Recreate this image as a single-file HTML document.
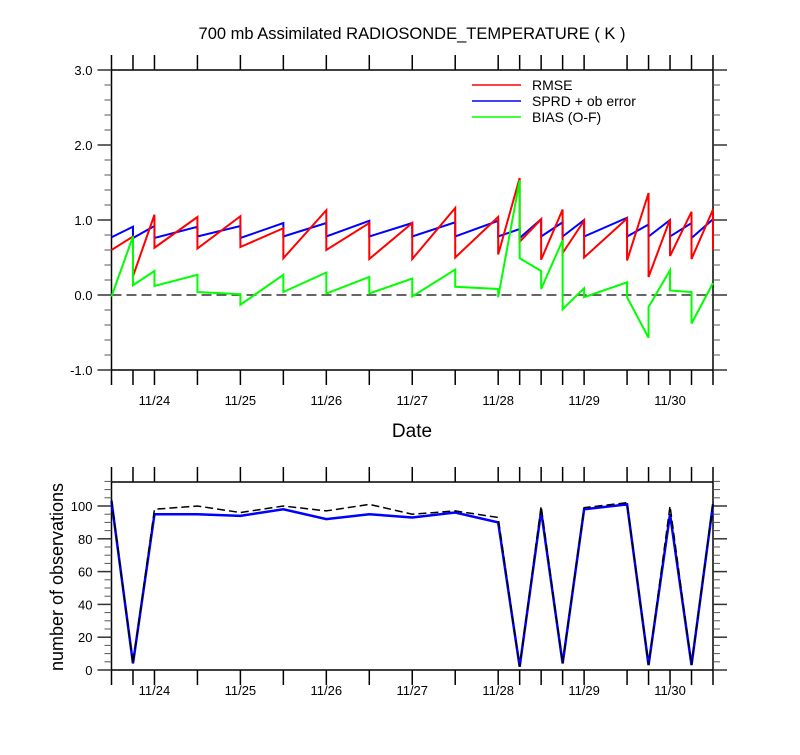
<!DOCTYPE html>
<html><head><meta charset="utf-8"><style>
html,body{margin:0;padding:0;background:#fff;}
svg text{font-family:"Liberation Sans",sans-serif;fill:#000;}
</style></head><body>
<svg id="chart" width="800" height="750" viewBox="0 0 800 750" xmlns="http://www.w3.org/2000/svg">
<text x="412" y="39" font-size="16.5" text-anchor="middle">700 mb Assimilated RADIOSONDE_TEMPERATURE ( K )</text>
<g id="topg"></g>
<g id="botg"></g>
<text x="412" y="437" font-size="19" text-anchor="middle">Date</text>
<text transform="translate(63,577) rotate(-90)" font-size="18" text-anchor="middle">number of observations</text>
<g>
<line x1="472" y1="85" x2="521" y2="85" stroke="#f00" stroke-width="1.5"/>
<text x="532" y="90" font-size="14">RMSE</text>
<line x1="472" y1="101" x2="521" y2="101" stroke="#00f" stroke-width="1.5"/>
<text x="532" y="106" font-size="14">SPRD + ob error</text>
<line x1="472" y1="117" x2="521" y2="117" stroke="#0f0" stroke-width="1.5"/>
<text x="532" y="122" font-size="14">BIAS (O-F)</text>
</g>
</svg>
<script>
// hours since 11/23 12Z
const times = [0,6,12,24,36,48,60,72,84,96,108,114,120,126,132,144,150,156,162,168];
const dayLabels = ["11/24","11/25","11/26","11/27","11/28","11/29","11/30"];
const dayHours = [12,36,60,84,108,132,156];
const rmseArrive = [0.60,0.78,1.07,1.04,1.05,0.89,1.13,0.96,0.96,1.16,1.04,1.56,1.01,1.14,0.99,1.02,1.36,1.01,1.11,1.14];
const rmseDepart = [0.60,0.25,0.63,0.62,0.64,0.49,0.60,0.48,0.48,0.50,0.54,0.71,0.47,0.56,0.50,0.46,0.24,0.52,0.48,0.60];
const sprdArrive = [0.77,0.91,0.92,0.91,0.92,0.96,0.96,0.99,0.96,0.97,0.99,0.88,1.01,0.97,1.00,1.03,0.94,1.00,0.96,1.01];
const sprdDepart = [0.77,0.76,0.76,0.78,0.76,0.78,0.78,0.78,0.78,0.78,0.78,0.76,0.78,0.78,0.78,0.78,0.78,0.78,0.76,0.78];
const biasArrive = [-0.02,0.78,0.32,0.27,0.01,0.27,0.30,0.24,0.22,0.34,0.08,1.53,0.32,0.73,0.09,0.17,-0.57,0.33,0.04,0.16];
const biasDepart = [-0.02,0.13,0.12,0.04,-0.13,0.04,0.02,0.02,-0.02,0.11,-0.03,0.49,0.08,-0.19,-0.03,-0.03,-0.16,0.06,-0.38,0.16];
const topTicks = [-1.0,0.0,1.0,2.0,3.0];
const obsTotal = [104,4,98,100,96,100,97,101,95,97,93,2,100,4,99,102,3,100,3,102];
const obsUsed  = [103,4,95,95,94,98,92,95,93,96,90,2,97,4,98,101,3,95,3,101];
const botTicks = [0,20,40,60,80,100];

const NS="http://www.w3.org/2000/svg";
const X0=111.5,X1=713,H0=0,H1=168;
const xs=h=>X0+(h-H0)/(H1-H0)*(X1-X0);
const yTop=v=>295-75*v;
const yBot=v=>670-1.64*v;
function mk(parent,tag,attrs){const e=document.createElementNS(NS,tag);for(const k in attrs)e.setAttribute(k,attrs[k]);parent.appendChild(e);return e;}
const gTop=document.getElementById('topg'), gBot=document.getElementById('botg');

function frame(g,yt,yb,ymin,ymax,yf,major,minorStep,fmt,labelY){
  const r=mk(g,'rect',{x:X0,y:yt,width:X1-X0,height:yb-yt,fill:'none',stroke:'#000','stroke-width':1.5});
  
  
  times.forEach(t=>{
    const x=xs(t);
    mk(g,'line',{x1:x,y1:yt,x2:x,y2:yt-15,stroke:'#000','stroke-width':1.5});
    mk(g,'line',{x1:x,y1:yb,x2:x,y2:yb+15,stroke:'#000','stroke-width':1.5});
  });
  dayHours.forEach((h,i)=>{
    const t=mk(g,'text',{x:xs(h),y:labelY,'font-size':13,'text-anchor':'middle'});
    t.textContent=dayLabels[i];
    
    
  });
  for(let v=ymin;v<=ymax+1e-9;v+=minorStep){
    const y=yf(v);
    mk(g,'line',{x1:X0,y1:y,x2:X0-7,y2:y,stroke:'#555','stroke-width':1});
    mk(g,'line',{x1:X1,y1:y,x2:X1+7,y2:y,stroke:'#555','stroke-width':1});
  }
  major.forEach(v=>{
    const y=yf(v);
    mk(g,'line',{x1:X0,y1:y,x2:X0-14,y2:y,stroke:'#333','stroke-width':1.5});
    mk(g,'line',{x1:X1,y1:y,x2:X1+14,y2:y,stroke:'#333','stroke-width':1.5});
    const t=mk(g,'text',{x:X0-19,y:y+5,'font-size':13,'text-anchor':'end'});
    t.textContent=fmt(v);
    
    
  });
}
frame(gTop,70,370,-1,3,yTop,topTicks,0.2,v=>v.toFixed(1),405);
frame(gBot,482,670,0,115,yBot,botTicks,5,v=>String(v),695);

const z=mk(gTop,'line',{x1:X0,y1:yTop(0),x2:X1,y2:yTop(0),stroke:'#333','stroke-width':1.5,'stroke-dasharray':'10,5'});



function saw(a,d){const p=[];times.forEach((t,i)=>{p.push(xs(t)+','+yTop(a[i]));p.push(xs(t)+','+yTop(d[i]));});return p.join(' ');}
const l1=mk(gTop,'polyline',{points:saw(sprdArrive,sprdDepart),fill:'none',stroke:'#00f','stroke-width':2});


const l2=mk(gTop,'polyline',{points:saw(rmseArrive,rmseDepart),fill:'none',stroke:'#f00','stroke-width':2});


const l3=mk(gTop,'polyline',{points:saw(biasArrive,biasDepart),fill:'none',stroke:'#0f0','stroke-width':2});



const pts=a=>times.map((t,i)=>xs(t)+','+yBot(a[i])).join(' ');
const b2=mk(gBot,'polyline',{points:pts(obsUsed),fill:'none',stroke:'#00f','stroke-width':2.5});


const b1=mk(gBot,'polyline',{points:pts(obsTotal),fill:'none',stroke:'#000','stroke-width':1.5,'stroke-dasharray':'8,4'});


</script>
</body></html>
